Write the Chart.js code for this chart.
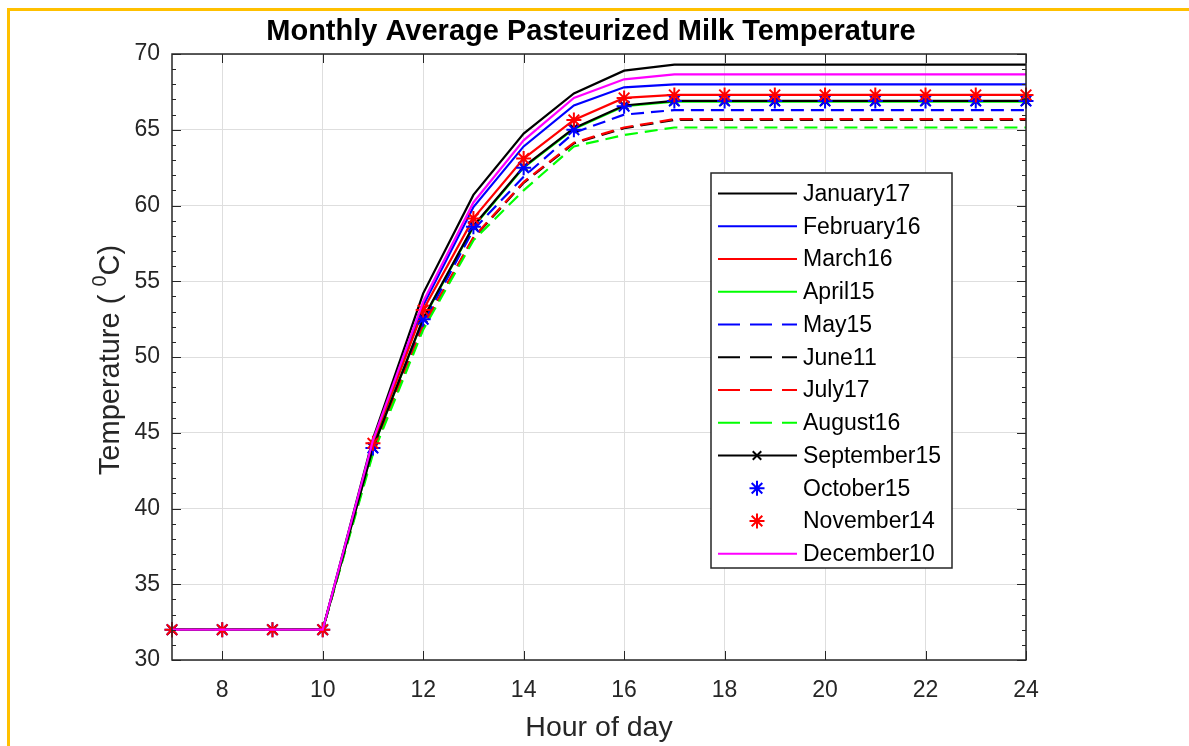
<!DOCTYPE html>
<html>
<head>
<meta charset="utf-8">
<title>Monthly Average Pasteurized Milk Temperature</title>
<script src="https://cdn.jsdelivr.net/npm/chart.js@4"></script>
<style>
  body { margin: 0; background: #fff; }
  canvas { display: block; }
</style>
</head>
<body>
<canvas id="milkChart" width="1189" height="746"></canvas>
<script>
// =====================
// DATA
// =====================
const hours = [7, 8, 9, 10, 11, 12, 13, 14, 15, 16, 17, 18, 19, 20, 21, 22, 23, 24];
const xTicks = [8, 10, 12, 14, 16, 18, 20, 22, 24];
const yTicks = [30, 35, 40, 45, 50, 55, 60, 65, 70];

const seriesNames = ["January17", "February16", "March16", "April15", "May15", "June11",
  "July17", "August16", "September15", "October15", "November14", "December10"];

const jan = [32, 32, 32, 32, 44.6, 54.2, 60.7, 64.75, 67.4, 68.9, 69.3, 69.3, 69.3, 69.3, 69.3, 69.3, 69.3, 69.3];
const feb = [32, 32, 32, 32, 44.4, 53.4, 59.9, 63.9, 66.6, 67.8, 68.0, 68.0, 68.0, 68.0, 68.0, 68.0, 68.0, 68.0];
const mar = [32, 32, 32, 32, 44.3, 53.1, 59.15, 63.1, 65.65, 67.1, 67.3, 67.3, 67.3, 67.3, 67.3, 67.3, 67.3, 67.3];
const apr = [32, 32, 32, 32, 44.0, 52.5, 58.6, 62.5, 65.05, 66.55, 66.85, 66.85, 66.85, 66.85, 66.85, 66.85, 66.85, 66.85];
const may = [32, 32, 32, 32, 43.9, 52.25, 58.4, 61.9, 64.8, 66.0, 66.3, 66.3, 66.3, 66.3, 66.3, 66.3, 66.3, 66.3];
const jun = [32, 32, 32, 32, 43.8, 52.0, 57.85, 61.5, 64.1, 65.1, 65.65, 65.65, 65.65, 65.65, 65.65, 65.65, 65.65, 65.65];
const jul = [32, 32, 32, 32, 43.8, 52.05, 57.9, 61.55, 64.15, 65.15, 65.7, 65.7, 65.7, 65.7, 65.7, 65.7, 65.7, 65.7];
const aug = [32, 32, 32, 32, 43.6, 51.8, 57.7, 61.0, 63.9, 64.65, 65.15, 65.15, 65.15, 65.15, 65.15, 65.15, 65.15, 65.15];
const sep = [32, 32, 32, 32, 44.0, 52.55, 58.65, 62.55, 65.1, 66.6, 66.9, 66.9, 66.9, 66.9, 66.9, 66.9, 66.9, 66.9];
const oct = [32, 32, 32, 32, 44.0, 52.5, 58.6, 62.5, 65.0, 66.55, 66.9, 66.9, 66.9, 66.9, 66.9, 66.9, 66.9, 66.9];
const nov = [32, 32, 32, 32, 44.3, 53.1, 59.15, 63.1, 65.65, 67.1, 67.3, 67.3, 67.3, 67.3, 67.3, 67.3, 67.3, 67.3];
const dec = [32, 32, 32, 32, 44.5, 53.65, 60.2, 64.3, 67.1, 68.33, 68.66, 68.66, 68.66, 68.66, 68.66, 68.66, 68.66, 68.66];

// =====================
// STYLE PER SERIES
// =====================
const DASH = [13, 7];
const styles = [
  { color: "#000000", dash: [] },
  { color: "#0000ff", dash: [] },
  { color: "#ff0000", dash: [] },
  { color: "#00ff00", dash: [] },
  { color: "#0000ff", dash: DASH },
  { color: "#000000", dash: DASH },
  { color: "#ff0000", dash: DASH },
  { color: "#00ff00", dash: DASH },
  { color: "#000000", dash: [], point: "crossRot", radius: 6 },
  { color: "#0000ff", dash: [], point: "star", radius: 7.5, noLine: true },
  { color: "#ff0000", dash: [], point: "star", radius: 7.5, noLine: true },
  { color: "#ff00ff", dash: [] }
];
const values = [jan, feb, mar, apr, may, jun, jul, aug, sep, oct, nov, dec];

const datasets = seriesNames.map((name, i) => {
  const s = styles[i];
  return {
    label: name,
    data: hours.map((h, j) => ({ x: h, y: values[i][j] })),
    borderColor: s.color,
    backgroundColor: s.color,
    borderWidth: 2.2,
    borderDash: s.dash,
    showLine: !s.noLine,
    pointStyle: s.point || "circle",
    pointRadius: s.point ? s.radius : 0,
    pointBorderWidth: 2,
    pointBorderColor: s.color,
    tension: 0,
    clip: false,
    order: seriesNames.length - i   // matlab: last series on top
  };
});

const AXIS = "#262626";
const FONT = "'Liberation Sans', Arial, sans-serif";

// =====================
// PLUGIN: FRAME, TITLE, BOX, TICKS, LEGEND
// =====================
const matlabLook = {
  id: "matlabLook",
  beforeDraw(chart) {
    const ctx = chart.ctx;
    ctx.save();
    ctx.fillStyle = "#ffffff";
    ctx.fillRect(0, 0, chart.width, chart.height);
    ctx.strokeStyle = "#ffc000";
    ctx.lineWidth = 3;
    ctx.beginPath();
    ctx.moveTo(8.5, chart.height);
    ctx.lineTo(8.5, 9.5);
    ctx.lineTo(chart.width, 9.5);
    ctx.stroke();
    ctx.restore();
  },
  afterDraw(chart) {
    const ctx = chart.ctx;
    const a = chart.chartArea;
    const xs = chart.scales.x, ys = chart.scales.y;
    ctx.save();

    // axes box
    ctx.strokeStyle = AXIS;
    ctx.lineWidth = 1.5;
    ctx.strokeRect(a.left, a.top, a.right - a.left, a.bottom - a.top);

    // inward tick marks
    ctx.lineWidth = 1;
    ctx.beginPath();
    xTicks.forEach(v => {
      const px = Math.round(xs.getPixelForValue(v)) + 0.5;
      ctx.moveTo(px, a.bottom); ctx.lineTo(px, a.bottom - 9);
      ctx.moveTo(px, a.top); ctx.lineTo(px, a.top + 9);
    });
    for (let v = yTicks[0]; v <= yTicks[yTicks.length - 1]; v++) {
      const py = Math.round(ys.getPixelForValue(v)) + 0.5;
      const len = yTicks.includes(v) ? 9 : 4;
      ctx.moveTo(a.left, py); ctx.lineTo(a.left + len, py);
      ctx.moveTo(a.right, py); ctx.lineTo(a.right - len, py);
    }
    ctx.stroke();

    // title
    ctx.fillStyle = "#000000";
    ctx.font = "bold 29px " + FONT;
    ctx.textAlign = "center";
    ctx.textBaseline = "middle";
    ctx.fillText("Monthly Average Pasteurized Milk Temperature", 591, 32);

    // y axis title with superscript
    ctx.fillStyle = AXIS;
    ctx.translate(111, 360);
    ctx.rotate(-Math.PI / 2);
    ctx.textAlign = "left";
    ctx.textBaseline = "middle";
    const big = "29px " + FONT, small = "20px " + FONT;
    const p1 = "Temperature ( ", p2 = "0", p3 = "C)";
    ctx.font = big;
    const w1 = ctx.measureText(p1).width, w3 = ctx.measureText(p3).width;
    ctx.font = small;
    const w2 = ctx.measureText(p2).width;
    let x0 = -(w1 + w2 + w3) / 2;
    ctx.font = big; ctx.fillText(p1, x0, 0);
    ctx.font = small; ctx.fillText(p2, x0 + w1, -11);
    ctx.font = big; ctx.fillText(p3, x0 + w1 + w2, 0);
    ctx.setTransform(1, 0, 0, 1, 0, 0);

    // legend inside the axes
    const lx = 711, ly = 173, lw = 241, lh = 395;
    ctx.fillStyle = "#ffffff";
    ctx.fillRect(lx, ly, lw, lh);
    ctx.strokeStyle = AXIS;
    ctx.lineWidth = 1.5;
    ctx.strokeRect(lx, ly, lw, lh);
    ctx.font = "23px " + FONT;
    ctx.textAlign = "left";
    ctx.textBaseline = "middle";
    chart.data.datasets.forEach((ds, i) => {
      const cy = 193.5 + i * 32.75;
      ctx.strokeStyle = ds.borderColor;
      ctx.fillStyle = ds.borderColor;
      if (ds.showLine) {
        ctx.lineWidth = 2.2;
        ctx.setLineDash(ds.borderDash.length ? [22, 10] : []);
        ctx.beginPath();
        ctx.moveTo(718, cy); ctx.lineTo(797, cy);
        ctx.stroke();
        ctx.setLineDash([]);
      }
      if (ds.pointRadius > 0) {
        ctx.lineWidth = ds.pointBorderWidth;
        Chart.helpers.drawPoint(ctx, {
          pointStyle: ds.pointStyle, radius: ds.pointRadius, rotation: 0, borderWidth: ds.pointBorderWidth
        }, 757, cy);
      }
      ctx.fillStyle = "#000000";
      ctx.fillText(ds.label, 803, cy + 1);
    });
    ctx.restore();
  }
};

// =====================
// GRAFIK
// =====================
const ctx = document.getElementById("milkChart");
new Chart(ctx, {
  type: "line",
  data: { datasets: datasets },
  plugins: [matlabLook],
  options: {
    responsive: false,
    animation: false,
    layout: { padding: { left: 0, top: 54, right: 163, bottom: 0 } },
    plugins: {
      legend: { display: false },
      tooltip: { enabled: false },
      title: { display: false }
    },
    scales: {
      x: {
        type: "linear",
        min: hours[0],
        max: hours[hours.length - 1],
        afterBuildTicks: (scale) => { scale.ticks = xTicks.map(v => ({ value: v })); },
        afterFit: (scale) => { scale.height = 86; },
        grid: { color: "#dedede", drawTicks: false },
        border: { display: false },
        ticks: {
          autoSkip: false, maxRotation: 0, padding: 17,
          color: AXIS, font: { family: FONT, size: 23 }
        },
        title: {
          display: true, text: "Hour of day", color: AXIS,
          font: { family: FONT, size: 28.5 }, padding: { top: 0, bottom: 1 }
        }
      },
      y: {
        type: "linear",
        min: yTicks[0],
        max: yTicks[yTicks.length - 1],
        afterBuildTicks: (scale) => { scale.ticks = yTicks.map(v => ({ value: v })); },
        afterFit: (scale) => { scale.width = 172; },
        grid: { color: "#dedede", drawTicks: false },
        border: { display: false },
        ticks: {
          padding: 12,
          color: AXIS, font: { family: FONT, size: 23 }
        }
      }
    }
  }
});
</script>
</body>
</html>
